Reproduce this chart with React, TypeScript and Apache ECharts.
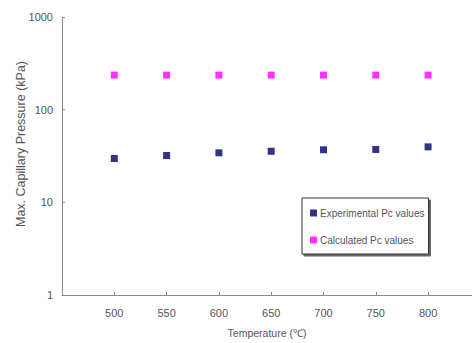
import React, { useEffect, useRef } from "react";
import * as echarts from "echarts";

const temperatures = [500, 550, 600, 650, 700, 750, 800];
const experimental = [29.7, 32, 34.2, 35.6, 36.9, 37.2, 39.7];
const calculated = [236, 236, 236, 236, 236, 236, 236];

const FONT = "Liberation Sans";
const TXT = "#555";

export default function App() {
  const ref = useRef<HTMLDivElement>(null);
  useEffect(() => {
    const chart = echarts.init(ref.current!, null, { renderer: "svg" });
    chart.setOption({
      animation: false,
      backgroundColor: "#fff",
      textStyle: { fontFamily: FONT },
      grid: { left: 62, top: 17, right: 0, bottom: 46, containLabel: false },
      graphic: [
        {
          type: "text",
          x: 20.5,
          y: 144,
          rotation: Math.PI / 2,
          style: {
            text: "Max. Capillary Pressure (kPa)",
            fontFamily: FONT,
            fontSize: 12.5,
            fill: TXT,
            align: "center",
            verticalAlign: "middle",
          },
        },
      ],
      legend: {
        orient: "vertical",
        left: 302,
        top: 198,
        padding: [10, 4, 9, 8],
        itemGap: 17,
        itemWidth: 7,
        itemHeight: 7,
        icon: "rect",
        borderColor: "#333",
        borderWidth: 1,
        backgroundColor: "#fff",
        shadowColor: "rgba(0,0,0,0.6)",
        shadowOffsetX: 2,
        shadowOffsetY: 2,
        shadowBlur: 1,
        textStyle: { fontFamily: FONT, fontSize: 10, color: TXT, padding: [0, 0, 0, -2] },
        data: ["Experimental Pc values", "Calculated Pc values"],
      },
      xAxis: {
        type: "value",
        min: 450,
        max: 842,
        interval: 50,
        name: "Temperature (℃)",
        nameLocation: "middle",
        nameGap: 32,
        nameTextStyle: { fontFamily: FONT, fontSize: 10.5, color: TXT },
        axisLine: { lineStyle: { color: "#888" } },
        axisTick: { inside: true, length: 3, lineStyle: { color: "#888" } },
        axisLabel: {
          fontFamily: FONT,
          fontSize: 11,
          color: TXT,
          margin: 12,
          showMaxLabel: false,
          formatter: (v: number) => (v === 450 || v > 800 ? "" : String(v)),
        },
        splitLine: { show: false },
      },
      yAxis: {
        type: "log",
        logBase: 10,
        min: 1,
        max: 1000,
        axisLine: { show: true, lineStyle: { color: "#888" } },
        axisTick: { show: true, inside: true, length: 3, lineStyle: { color: "#888" } },
        axisLabel: {
          fontFamily: FONT,
          fontSize: 11,
          color: TXT,
          margin: 9,
          formatter: (v: number) => String(Math.round(v)),
        },
        splitLine: { show: false },
        minorTick: { show: false },
      },
      series: [
        {
          name: "Experimental Pc values",
          type: "scatter",
          symbol: "rect",
          symbolSize: 7,
          itemStyle: { color: "#000066" },
          data: temperatures.map((t, i) => [t, experimental[i]]),
        },
        {
          name: "Calculated Pc values",
          type: "scatter",
          symbol: "rect",
          symbolSize: 7,
          itemStyle: { color: "#ff00ff" },
          data: temperatures.map((t, i) => [t, calculated[i]]),
        },
      ],
    });
    return () => chart.dispose();
  }, []);
  return <div ref={ref} style={{ width: 472, height: 343, position: "absolute", left: 0, top: 0 }} />;
}
